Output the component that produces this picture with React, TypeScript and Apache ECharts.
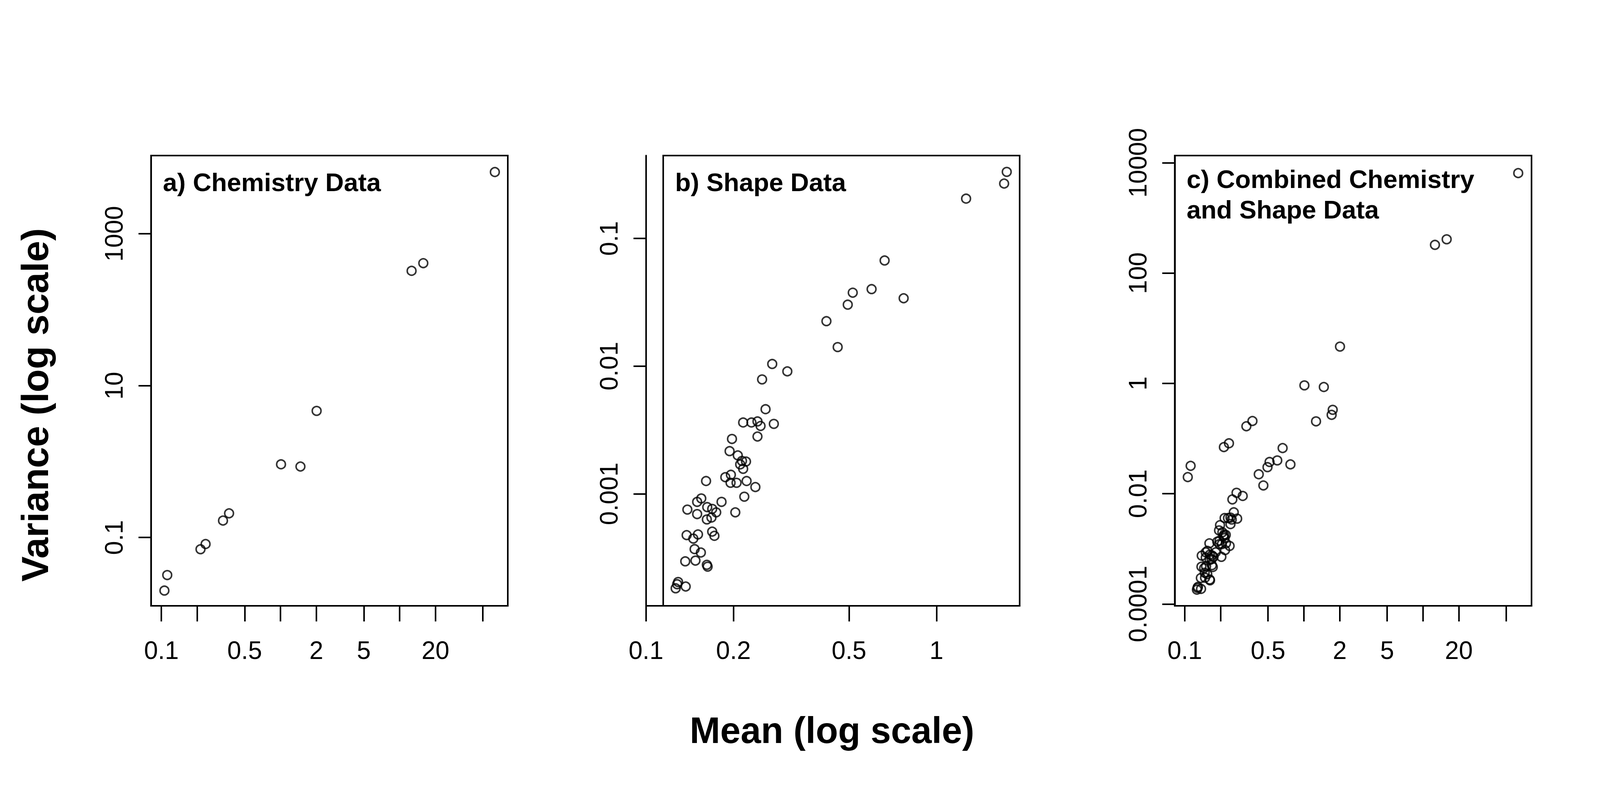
import React, { useRef, useEffect } from 'react';
import * as echarts from 'echarts';

// Chemistry data: [mean, variance]
const chemMean = [0.106, 0.112, 0.213, 0.235, 0.329, 0.37, 1.01, 1.47, 2.01, 12.6, 15.8, 63];
const chemVar = [0.02, 0.032, 0.07, 0.082, 0.167, 0.208, 0.92, 0.86, 4.65, 325, 410, 6500];

// Shape data: [mean, variance]
const shapeMean = [
  0.1265, 0.128, 0.129, 0.137, 0.1365, 0.148, 0.162, 0.163, 0.1545, 0.147,
  0.1455, 0.151, 0.138, 0.1388, 0.15, 0.15, 0.155, 0.161, 0.162, 0.1625,
  0.169, 0.1745, 0.182, 0.169, 0.172, 0.168, 0.1875, 0.194, 0.1977, 0.196,
  0.1955, 0.205, 0.203, 0.207, 0.211, 0.214, 0.216, 0.221, 0.222, 0.218,
  0.238, 0.216, 0.2307, 0.242, 0.248, 0.242, 0.258, 0.2755, 0.251, 0.272,
  0.3066, 0.418, 0.457, 0.495, 0.515, 0.598, 0.663, 0.771, 1.265, 1.71, 1.746,
];
const shapeVar = [
  1.82e-4, 1.96e-4, 2.04e-4, 1.88e-4, 2.96e-4, 3.0e-4, 2.78e-4, 2.69e-4, 3.47e-4, 3.69e-4,
  4.46e-4, 4.81e-4, 4.75e-4, 7.53e-4, 6.94e-4, 8.65e-4, 9.2e-4, 1.26e-3, 6.3e-4, 7.87e-4,
  7.62e-4, 7.16e-4, 8.65e-4, 5.06e-4, 4.69e-4, 6.52e-4, 1.35e-3, 2.16e-3, 2.69e-3, 1.41e-3,
  1.22e-3, 1.22e-3, 7.16e-4, 2.0e-3, 1.7e-3, 1.81e-3, 1.57e-3, 1.79e-3, 1.26e-3, 9.5e-4,
  1.13e-3, 3.62e-3, 3.62e-3, 3.69e-3, 3.4e-3, 2.81e-3, 4.6e-3, 3.53e-3, 7.87e-3, 1.04e-2,
  9.1e-3, 2.25e-2, 1.41e-2, 3.03e-2, 3.76e-2, 4.01e-2, 6.72e-2, 3.4e-2, 0.205, 0.269, 0.332,
];

// tick values
const xTicksWide = [0.1, 0.2, 0.5, 1, 2, 5, 10, 20, 50];
const xLabelsWide = [0.1, 0.5, 2, 5, 20];
const xTicksShape = [0.1, 0.2, 0.5, 1];
const yTicksChem = [0.1, 10, 1000];
const yTicksShape = [0.001, 0.01, 0.1];
const yTicksComb = [0.0001, 0.01, 1, 100, 10000];

const titles = ['a) Chemistry Data', 'b) Shape Data', 'c) Combined Chemistry\nand Shape Data'];

const FONT = 'Liberation Sans, Arial, Helvetica, sans-serif';
const lg = (v: number) => Math.log10(v);
const fmt = (v: number) => String(Number(Math.pow(10, v).toPrecision(3)));

const toPts = (xs: number[], ys: number[]) => xs.map((x, i) => [lg(x), lg(ys[i])]);

const App: React.FC = () => {
  const ref = useRef<HTMLDivElement>(null);

  useEffect(() => {
    if (!ref.current) return;
    const chart = echarts.init(ref.current, null, { renderer: 'svg' });
    // layout was measured on a 5117x2034 canvas; scale to the real viewport
    const sx = chart.getWidth() / 5117;
    const sy = chart.getHeight() / 2034;
    const X = (v: number) => v * sx;
    const Y = (v: number) => v * sy;
    const F = (v: number) => v * sx;

    const top = 398, h = 1152;
    const frames = [
      { left: 483, width: 1141 },
      { left: 2121, width: 1140 },
      { left: 3757, width: 1141 },
    ];
    const grids = [
      { left: X(483), top: Y(top), width: X(1141), height: Y(h) },
      { left: X(2066), top: Y(top), width: X(1195), height: Y(h) },
      { left: X(3757), top: Y(top), width: X(1141), height: Y(h) },
    ];

    const lw = F(5);
    const xAxisBase = (idx: number, min: number, max: number, ticks: number[], labels: number[]) => ({
      type: 'value', gridIndex: idx, min, max,
      splitLine: { show: false },
      axisLine: { show: true, onZero: false, lineStyle: { color: '#000', width: lw } },
      axisTick: { show: true, length: Y(40), lineStyle: { color: '#000', width: lw }, customValues: ticks.map(lg) },
      axisLabel: { customValues: labels.map(lg), formatter: fmt, color: '#000', fontSize: F(80), fontFamily: FONT, margin: Y(82) },
    });
    const yAxisBase = (idx: number, min: number, max: number, ticks: number[]) => ({
      type: 'value', gridIndex: idx, min, max,
      splitLine: { show: false },
      axisLine: { show: true, onZero: false, lineStyle: { color: '#000', width: lw } },
      axisTick: { show: true, length: X(40), lineStyle: { color: '#000', width: lw }, customValues: ticks.map(lg) },
      axisLabel: { customValues: ticks.map(lg), formatter: fmt, rotate: 90, color: '#000', fontSize: F(80), fontFamily: FONT, margin: X(78) },
    });

    const sym = {
      type: 'scatter', symbol: 'circle', symbolSize: F(28),
      itemStyle: { color: 'rgba(0,0,0,0)', borderColor: '#000', borderWidth: lw },
      silent: true,
    };

    const chemPts = toPts(chemMean, chemVar);
    const shapePts = toPts(shapeMean, shapeVar);

    chart.setOption({
      animation: false,
      backgroundColor: '#fff',
      grid: grids,
      xAxis: [
        xAxisBase(0, -1.087, 1.908, xTicksWide, xLabelsWide),
        xAxisBase(1, -1, 0.2865, xTicksShape, xTicksShape),
        xAxisBase(2, -1.084, 1.911, xTicksWide, xLabelsWide),
      ],
      yAxis: [
        yAxisBase(0, -1.9, 4.03, yTicksChem),
        yAxisBase(1, -3.877, -0.351, yTicksShape),
        yAxisBase(2, -4.033, 4.131, yTicksComb),
      ],
      series: [
        { ...sym, xAxisIndex: 0, yAxisIndex: 0, data: chemPts },
        { ...sym, xAxisIndex: 1, yAxisIndex: 1, data: shapePts },
        { ...sym, xAxisIndex: 2, yAxisIndex: 2, data: [...chemPts, ...shapePts] },
      ],
      graphic: [
        ...frames.map((f) => ({
          type: 'rect', z: 100, silent: true,
          shape: { x: X(f.left), y: Y(top), width: X(f.width), height: Y(h) },
          style: { fill: 'none', stroke: '#000', lineWidth: lw },
        })),
        ...titles.map((t, i) => ({
          type: 'text', z: 100, left: X(frames[i].left + 38), top: Y(i === 2 ? 420 : 428),
          style: { text: t, font: `bold ${F(82)}px ${FONT}`, fill: '#000', lineHeight: F(97) },
        })),
        {
          type: 'text', z: 100, x: X(2661), y: Y(1868),
          style: { text: 'Mean (log scale)', font: `bold ${F(117)}px ${FONT}`, fill: '#000', align: 'center', verticalAlign: 'middle' },
        },
        {
          type: 'text', z: 100, x: X(112), y: Y(1036), rotation: Math.PI / 2,
          style: { text: 'Variance (log scale)', font: `bold ${F(121)}px ${FONT}`, fill: '#000', align: 'center', verticalAlign: 'middle' },
        },
      ],
    });

    return () => chart.dispose();
  }, []);

  return <div ref={ref} style={{ position: 'fixed', left: 0, top: 0, width: '100vw', height: '100vh' }} />;
};

export default App;
